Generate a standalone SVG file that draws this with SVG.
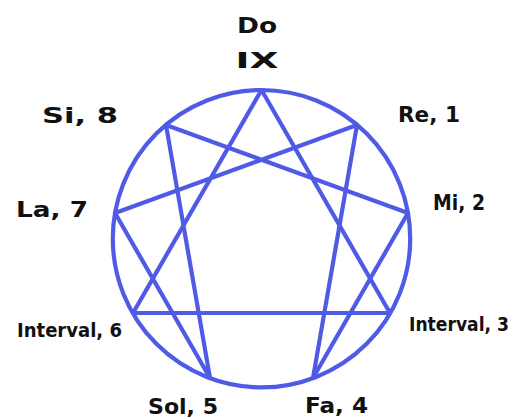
<svg xmlns="http://www.w3.org/2000/svg" width="518" height="419" viewBox="0 0 518 419">
<style>
.ln{fill:none;stroke:#4f5be6;stroke-width:4.2;stroke-linejoin:round;stroke-linecap:round}
.t{font-family:"DejaVu Sans","Liberation Sans",sans-serif;font-weight:bold;font-size:21px;fill:#111}
.tn{font-family:"DejaVu Sans Condensed","DejaVu Sans",sans-serif;font-weight:bold;font-size:22px;fill:#111}
.ti{font-family:"DejaVu Sans Condensed","DejaVu Sans",sans-serif;font-weight:bold;font-size:20px;fill:#111}
</style>
<rect width="518" height="419" fill="#fff"/>
<g id="connectors">
<circle class="ln" cx="261.5" cy="238.7" r="148.7"/>
<polygon class="ln" points="261.5,90 390,313 133,313"/>
<polygon class="ln" points="357,125 313,378 408,213 166,125 210,378 115,213"/>
</g>
<g id="n9"><text class="t" x="257" y="33" text-anchor="middle" font-size="24" textLength="40" lengthAdjust="spacingAndGlyphs">Do</text><text class="t" x="257" y="68" text-anchor="middle" font-size="24" textLength="43" lengthAdjust="spacingAndGlyphs">IX</text></g>
<g id="n8"><text class="t" x="42" y="123" textLength="76" lengthAdjust="spacingAndGlyphs">Si, 8</text></g>
<g id="n1"><text class="t" x="398" y="122" textLength="62" lengthAdjust="spacingAndGlyphs">Re, 1</text></g>
<g id="n7"><text class="t" x="16" y="217" textLength="72" lengthAdjust="spacingAndGlyphs">La, 7</text></g>
<g id="n2"><text class="tn" x="433" y="210" textLength="52" lengthAdjust="spacingAndGlyphs">Mi, 2</text></g>
<g id="n6"><text class="ti" x="17" y="337" textLength="105" lengthAdjust="spacingAndGlyphs">Interval, 6</text></g>
<g id="n3"><text class="ti" x="409" y="331" textLength="100" lengthAdjust="spacingAndGlyphs">Interval, 3</text></g>
<g id="n5"><text class="t" x="148" y="414" textLength="70" lengthAdjust="spacingAndGlyphs">Sol, 5</text></g>
<g id="n4"><text class="t" x="305" y="413" textLength="63" lengthAdjust="spacingAndGlyphs">Fa, 4</text></g>
</svg>
